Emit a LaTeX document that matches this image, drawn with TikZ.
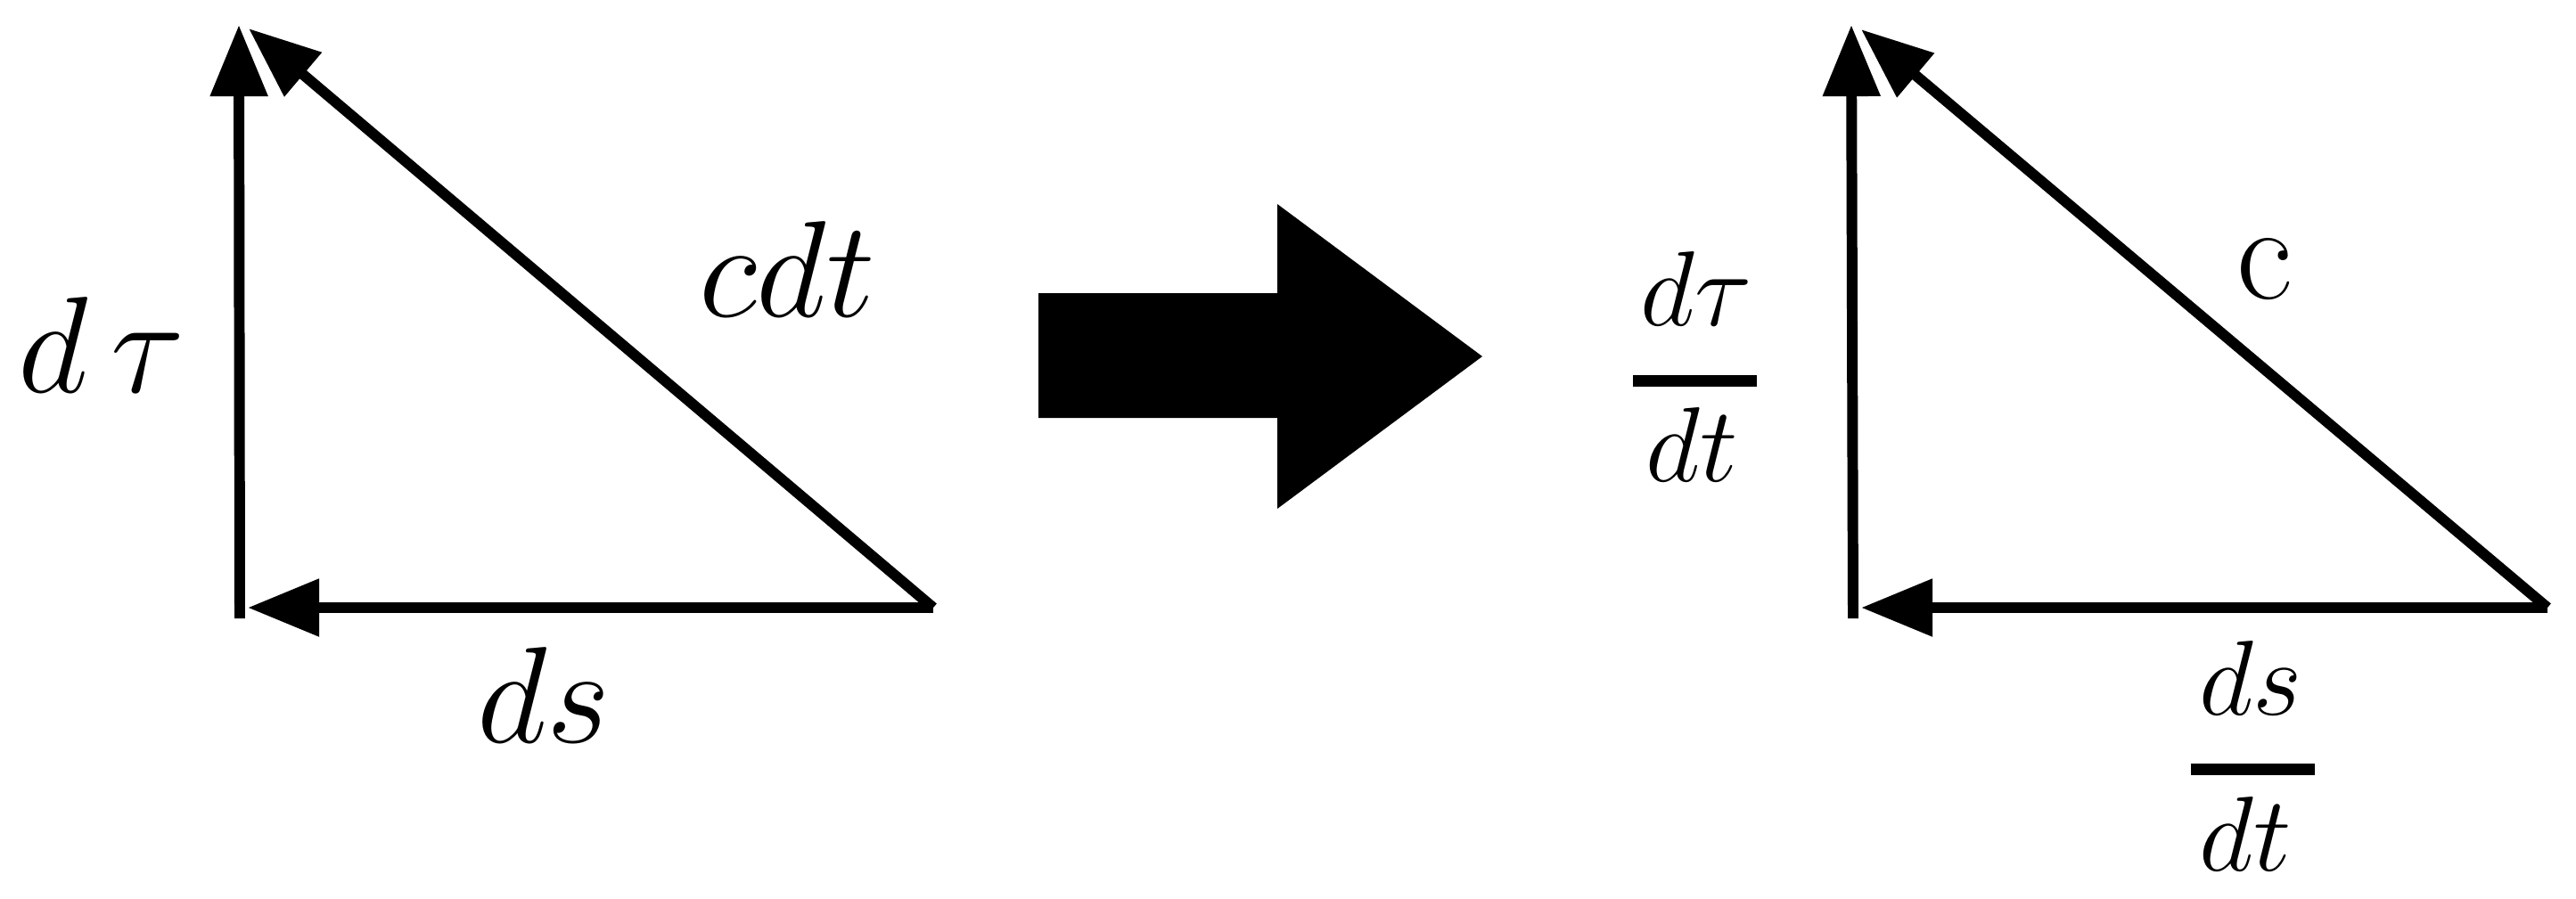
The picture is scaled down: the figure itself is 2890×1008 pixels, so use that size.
\RequirePackage{fix-cm}
\documentclass[tikz,border=0pt]{standalone}
\usetikzlibrary{arrows.meta}
\tikzset{
  vec/.style={line width=3.4pt, -{Triangle[length=0.8cm,width=0.62cm]}},
  bigmath/.style={anchor=base, inner sep=0pt, font=\fontsize{43.8}{50}\selectfont},
  fracmath/.style={anchor=base, inner sep=0pt, font=\fontsize{34}{40}\selectfont},
  fracbar/.style={line width=0.13cm},
  blockarrow/.style={fill=black, draw=none}
}
\begin{document}
\begin{tikzpicture}[x=0.01cm, y=-0.01cm]
\useasboundingbox (0,0) rectangle (2890,1008);

% ---- left triangle ----
\coordinate (A1) at (269,694);
\coordinate (T1) at (268,28);
\coordinate (R1) at (1047,682);
\coordinate (H1) at (278,682);
\coordinate (D1) at (279,32);
\draw[vec] (A1) -- (T1);
\draw[vec] (R1) -- (H1);
\draw[vec] (R1) -- (D1);

\node[bigmath] (ltau) at (114,440) {$d\,\tau$};
\node[bigmath] (lcdt) at (883,355) {$cdt$};
\node[bigmath] (lds)  at (610,833) {$ds$};

% ---- block arrow ----
\fill[blockarrow] (1165,329) -- (1433,329) -- (1433,229) -- (1663,400)
  -- (1433,571) -- (1433,469) -- (1165,469) -- cycle;

% ---- right triangle ----
\coordinate (A2) at (2079,694);
\coordinate (T2) at (2077,28);
\coordinate (R2) at (2858,682);
\coordinate (H2) at (2088,682);
\coordinate (D2) at (2088,33);
\draw[vec] (A2) -- (T2);
\draw[vec] (R2) -- (H2);
\draw[vec] (R2) -- (D2);

\node[fracmath] (rtaunum) at (1903,365) {$d\tau$};
\node[fracmath] (rtauden) at (1898,540) {$dt$};
\draw[fracbar] (1832,427) -- (1971,427);

\node[bigmath] (rc) at (2541,335) {$\mathrm{c}$};

\node[fracmath] (rdsnum) at (2525,802) {$ds$};
\node[fracmath] (rdsden) at (2519,977) {$dt$};
\draw[fracbar] (2458,863) -- (2597,863);
\end{tikzpicture}
\end{document}
